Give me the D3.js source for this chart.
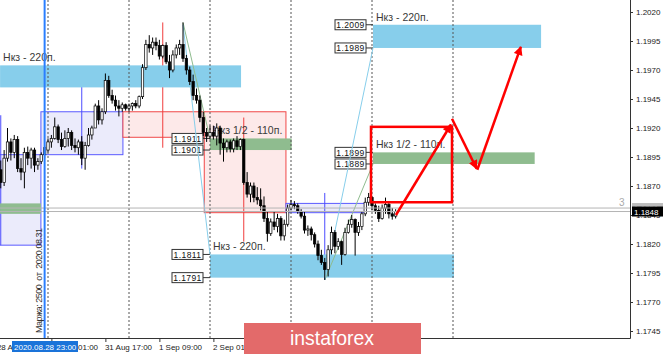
<!DOCTYPE html>
<html>
<head>
<meta charset="utf-8">
<script src="https://cdn.jsdelivr.net/npm/d3@7/dist/d3.min.js"></script>
<style>
html,body{margin:0;padding:0;background:#fff;overflow:hidden}
svg{display:block}
text{font-family:"Liberation Sans",Arial,sans-serif}
</style>
</head>
<body>
<svg id="svg" width="665" height="354"></svg>
<script>
// EURUSD H1, bar 0 = 2020.08.28 10:00
const ohlc = [
  [1.1884,1.1892,1.1868,1.1873],[1.1873,1.1901,1.1870,1.1894],[1.1894,1.1920,1.1891,1.1908],[1.1908,1.1911,1.1892,1.1899],
  [1.1899,1.1914,1.1894,1.1910],[1.1910,1.1913,1.1882,1.1885],[1.1885,1.1894,1.1875,1.1882],[1.1882,1.1903,1.1868,1.1899],
  [1.1899,1.1904,1.1888,1.1894],[1.1894,1.1903,1.1885,1.1901],[1.1901,1.1903,1.1882,1.1888],[1.1888,1.1894,1.1884,1.1891],
  [1.1891,1.1899,1.1889,1.1897],[1.1897,1.1905,1.1894,1.1903],
  // 31 Aug
  [1.1901,1.1911,1.1899,1.1908],[1.1908,1.1914,1.1903,1.1911],[1.1911,1.1929,1.1910,1.1921],[1.1921,1.1923,1.1907,1.1910],
  [1.1910,1.1916,1.1901,1.1904],[1.1904,1.1918,1.1903,1.1911],[1.1911,1.1920,1.1904,1.1916],[1.1916,1.1918,1.1901,1.1905],
  [1.1905,1.1911,1.1899,1.1903],[1.1903,1.1910,1.1897,1.1908],[1.1908,1.1913,1.1888,1.1894],[1.1894,1.1908,1.1884,1.1905],
  [1.1905,1.1920,1.1904,1.1914],[1.1914,1.1922,1.1910,1.1920],[1.1920,1.1941,1.1920,1.1939],[1.1939,1.1944,1.1923,1.1927],
  [1.1927,1.1937,1.1923,1.1934],[1.1934,1.1967,1.1932,1.1961],[1.1961,1.1965,1.1946,1.1948],[1.1948,1.1953,1.1941,1.1944],
  [1.1944,1.1948,1.1935,1.1939],[1.1939,1.1944,1.1930,1.1937],[1.1937,1.1942,1.1934,1.1940],[1.1940,1.1941,1.1935,1.1937],
  // 1 Sep
  [1.1937,1.1941,1.1934,1.1939],[1.1939,1.1942,1.1935,1.1941],[1.1941,1.1944,1.1937,1.1939],[1.1939,1.1948,1.1937,1.1947],
  [1.1947,1.1975,1.1945,1.1972],[1.1972,1.1996,1.1970,1.1992],[1.1992,1.2000,1.1985,1.1989],[1.1989,1.1998,1.1983,1.1994],
  [1.1994,1.1998,1.1987,1.1991],[1.1991,1.1996,1.1979,1.1982],[1.1982,1.1992,1.1980,1.1991],[1.1991,1.1994,1.1975,1.1977],
  [1.1977,1.1983,1.1963,1.1970],[1.1970,1.1987,1.1968,1.1983],[1.1983,1.1992,1.1980,1.1989],[1.1989,1.1996,1.1983,1.1992],
  [1.1992,1.2011,1.1977,1.1980],[1.1980,1.1983,1.1966,1.1970],[1.1970,1.1973,1.1957,1.1960],[1.1960,1.1966,1.1944,1.1948],
  [1.1948,1.1954,1.1941,1.1944],[1.1944,1.1948,1.1925,1.1929],[1.1929,1.1934,1.1913,1.1916],[1.1916,1.1920,1.1908,1.1913],
  // 2 Sep
  [1.1913,1.1922,1.1910,1.1916],[1.1916,1.1922,1.1910,1.1913],[1.1913,1.1924,1.1905,1.1920],[1.1920,1.1922,1.1897,1.1907],
  [1.1907,1.1911,1.1891,1.1903],[1.1903,1.1910,1.1899,1.1908],[1.1908,1.1910,1.1899,1.1902],[1.1902,1.1911,1.1899,1.1909],
  [1.1909,1.1913,1.1901,1.1904],[1.1904,1.1911,1.1901,1.1910],[1.1910,1.1911,1.1871,1.1873],[1.1873,1.1882,1.1860,1.1863],
  [1.1863,1.1873,1.1856,1.1870],[1.1870,1.1873,1.1856,1.1860],[1.1860,1.1869,1.1854,1.1858],[1.1858,1.1868,1.1849,1.1853],
  [1.1853,1.1861,1.1839,1.1842],[1.1842,1.1848,1.1822,1.1829],[1.1829,1.1842,1.1827,1.1839],[1.1839,1.1848,1.1832,1.1835],
  [1.1835,1.1846,1.1830,1.1842],[1.1842,1.1844,1.1823,1.1827],[1.1827,1.1841,1.1823,1.1837],[1.1837,1.1854,1.1835,1.1851],
  // 3 Sep
  [1.1851,1.1858,1.1849,1.1854],[1.1854,1.1857,1.1850,1.1853],[1.1853,1.1855,1.1846,1.1848],[1.1848,1.1850,1.1842,1.1844],
  [1.1844,1.1848,1.1829,1.1832],[1.1832,1.1836,1.1827,1.1833],[1.1833,1.1835,1.1823,1.1828],[1.1828,1.1830,1.1817,1.1820],
  [1.1820,1.1823,1.1806,1.1810],[1.1810,1.1815,1.1802,1.1804],[1.1804,1.1808,1.1789,1.1798],[1.1798,1.1819,1.1792,1.1815],
  [1.1815,1.1835,1.1811,1.1830],[1.1830,1.1832,1.1812,1.1818],[1.1818,1.1825,1.1815,1.1822],[1.1822,1.1823,1.1802,1.1811],
  [1.1811,1.1834,1.1810,1.1830],[1.1830,1.1841,1.1829,1.1837],[1.1837,1.1845,1.1834,1.1841],[1.1841,1.1842,1.1810,1.1830],
  [1.1830,1.1839,1.1827,1.1835],[1.1835,1.1848,1.1832,1.1846],[1.1846,1.1860,1.1844,1.1856],[1.1856,1.1864,1.1853,1.1860],
  // 4 Sep
  [1.1860,1.1861,1.1849,1.1853],[1.1853,1.1855,1.1846,1.1849],[1.1849,1.1853,1.1839,1.1842],[1.1842,1.1854,1.1841,1.1851],
  [1.1851,1.1860,1.1846,1.1854],[1.1854,1.1856,1.1842,1.1846],[1.1846,1.1851,1.1841,1.1844],[1.1844,1.1850,1.1842,1.1848]
];

const yTicks = [1.2020,1.1995,1.1970,1.1945,1.1920,1.1895,1.1870,1.1845,1.1820,1.1795,1.1770,1.1745];
const xTickBars = [-1, 15, 31, 47, 63];
const xTickLabels = ["28 Aug 09:00","31 Aug 01:00","31 Aug 17:00","1 Sep 09:00","2 Sep 01:00"];
const daySeparators = [14, 38, 62, 86, 110, 134];
const crossBar = 13, crossLabel = "2020.08.28 23:00";
const bid = 1.1848, ask = 1.1851;
const margin = "Маржа: 2500  от  2020.08.31";

// daily range boxes: from/to in bars, box prices, middle line range
const dayBoxes = [
  {from:-12,  to:11.9,  hi:1.1897, lo:1.1819, side:"buy",  mid:0,  top:1.1931, bot:1.1819},
  {from:11.9, to:36.2,  hi:1.1934, lo:1.1897, side:"buy",  mid:24, top:1.1966, bot:1.1885},
  {from:36.2, to:60.5,  hi:1.1934, lo:1.1912, side:"sell", mid:48, top:1.2011, bot:1.1903},
  {from:60.3, to:84.5,  hi:1.1934, lo:1.1847, side:"sell", mid:72, top:1.1929, bot:1.1822},
  {from:84.5, to:108.2, hi:1.1855, lo:1.1847, side:"buy",  mid:96, top:1.1864, bot:1.1789}
];

const blueZones = [
  {from:-0.2, to:71.2,  hi:1.1974, lo:1.1955, label:"Нкз - 220п.", tags:false},
  {from:110.3,to:160.1, hi:1.2009, lo:1.1989, label:"Нкз - 220п.", tags:true},
  {from:62,   to:134.3, hi:1.1811, lo:1.1791, label:"Нкз - 220п.", tags:true}
];
const greenZones = [
  {from:-0.2, to:11.9,  hi:1.1855, lo:1.1846, label:null, tags:false},
  {from:62,   to:86.2,  hi:1.1911, lo:1.1901, label:"Нкз 1/2 - 110п.", tags:true},
  {from:110.3,to:158.2, hi:1.1899, lo:1.1889, label:"Нкз 1/2 - 110п.", tags:true}
];

const thinLines = [
  {a:[54,1.2011], b:[62,1.1911], c:"#8fbc8f"},
  {a:[54,1.2009], b:[62,1.1811], c:"#87ceeb"},
  {a:[96,1.1789], b:[110.3,1.1889], c:"#8fbc8f"},
  {a:[96,1.1789], b:[110.3,1.1989], c:"#87ceeb"}
];
const targetBox = {from:109.7, to:133.7, hi:1.1921, lo:1.1856};
const arrows = [
  {a:[117.1,1.1845], b:[133.4,1.1923]},
  {a:[133.7,1.1928], b:[141.0,1.1885]},
  {a:[141.2,1.1884], b:[154.1,1.1990]}
];

const W = 665, H = 354, PR = 630, PB = 338;
const svg = d3.select('#svg');
const x = d3.scaleLinear().domain([14, 134]).range([48, 453]);
const y = d3.scaleLinear().domain([1.1745, 1.2020]).range([331, 12]);
const f4 = d3.format(".4f");

svg.append('defs').append('clipPath').attr('id','plot')
  .append('rect').attr('x',0).attr('y',0).attr('width',PR).attr('height',PB);
svg.select('defs').append('marker').attr('id','head')
  .attr('viewBox','0 0 10 10').attr('refX',9).attr('refY',5)
  .attr('markerWidth',4).attr('markerHeight',3.6).attr('orient','auto')
  .append('path').attr('d','M0,0 L10,5 L0,10 z').attr('fill','#ff0000');

const g = svg.append('g').attr('clip-path','url(#plot)');

// range boxes
g.selectAll('rect.day').data(dayBoxes).join('rect').attr('class','day')
  .attr('x',d=>x(d.from)).attr('width',d=>x(d.to)-x(d.from))
  .attr('y',d=>y(d.hi)).attr('height',d=>y(d.lo)-y(d.hi))
  .attr('fill',d=>d.side=="buy" ? "#ebebfb" : "#fde9e9")
  .attr('stroke',d=>d.side=="buy" ? "#5a5aff" : "#f04848").attr('stroke-width',1);
g.selectAll('line.mid').data(dayBoxes).join('line').attr('class','mid')
  .attr('x1',d=>x(d.mid)).attr('x2',d=>x(d.mid))
  .attr('y1',d=>y(d.top)).attr('y2',d=>y(d.bot))
  .attr('stroke',d=>d.side=="buy" ? "#4b4bff" : "#f03c3c").attr('stroke-width',1);

// zones
function zones(data, color){
  g.append('g').selectAll('rect').data(data).join('rect')
    .attr('x',d=>x(d.from)).attr('width',d=>x(d.to)-x(d.from))
    .attr('y',d=>y(d.hi)).attr('height',d=>y(d.lo)-y(d.hi))
    .attr('fill',color);
}
zones(blueZones, "#87ceeb");
zones(greenZones, "#8fbc8f");

// period separators
g.selectAll('line.sep').data(daySeparators).join('line').attr('class','sep')
  .attr('x1',d=>x(d)).attr('x2',d=>x(d)).attr('y1',0).attr('y2',PB)
  .attr('stroke','#555').attr('stroke-dasharray','2,2').attr('stroke-width',1);

// zone labels
g.selectAll('text.zl').data(blueZones.concat(greenZones).filter(d=>d.label)).join('text').attr('class','zl')
  .attr('x',d=>x(d.from)+3).attr('y',d=>y(d.hi)-4)
  .attr('font-size',10.5).attr('fill','#3a3a3a').text(d=>d.label);

// price tags
const tagData = [];
blueZones.concat(greenZones).filter(d=>d.tags).forEach(d=>{
  tagData.push({bar:d.from, p:d.hi}); tagData.push({bar:d.from, p:d.lo});
});
const tg = g.append('g').selectAll('g').data(tagData).join('g');
tg.append('line').attr('x1',d=>x(d.bar)-7).attr('x2',d=>x(d.bar)).attr('y1',d=>y(d.p)).attr('y2',d=>y(d.p))
  .attr('stroke','#333');
tg.append('rect').attr('x',d=>x(d.bar)-38).attr('y',d=>y(d.p)-5).attr('width',31).attr('height',10)
  .attr('fill','#fff').attr('stroke','#333').attr('stroke-width',1);
tg.append('text').attr('x',d=>x(d.bar)-22.5).attr('y',d=>y(d.p)+3.2).attr('text-anchor','middle')
  .attr('font-size',8.5).attr('letter-spacing',0.4).attr('fill','#111').text(d=>f4(d.p));

// thin lines
g.selectAll('line.thin').data(thinLines).join('line').attr('class','thin')
  .attr('x1',d=>x(d.a[0])).attr('y1',d=>y(d.a[1])).attr('x2',d=>x(d.b[0])).attr('y2',d=>y(d.b[1]))
  .attr('stroke',d=>d.c).attr('stroke-width',1);

// candles
const cg = g.append('g').selectAll('g').data(ohlc).join('g');
cg.append('line').attr('x1',(d,i)=>x(i)).attr('x2',(d,i)=>x(i))
  .attr('y1',d=>y(d[1])).attr('y2',d=>y(d[2])).attr('stroke','#000').attr('stroke-width',1);
cg.append('rect').attr('x',(d,i)=>x(i)-1.2).attr('width',2.4)
  .attr('y',d=>y(Math.max(d[0],d[3]))).attr('height',d=>Math.max(0.8,Math.abs(y(d[0])-y(d[3]))))
  .attr('fill',d=>d[3]>=d[0] ? '#fff' : '#000').attr('stroke','#000').attr('stroke-width',0.7);

// bid / ask
g.selectAll('line.ba').data([ask, bid]).join('line').attr('class','ba')
  .attr('x1',0).attr('x2',PR).attr('y1',d=>y(d)).attr('y2',d=>y(d))
  .attr('stroke','#b4b4b4').attr('stroke-width',1);
g.append('text').attr('x',619).attr('y',206).attr('font-size',10).attr('fill','#aaa').text('3');

// target box and arrows
g.append('rect').attr('x',x(targetBox.from)).attr('width',x(targetBox.to)-x(targetBox.from))
  .attr('y',y(targetBox.hi)).attr('height',y(targetBox.lo)-y(targetBox.hi))
  .attr('fill','none').attr('stroke','#ff0000').attr('stroke-width',2.5);
g.selectAll('line.arr').data(arrows).join('line').attr('class','arr')
  .attr('x1',d=>x(d.a[0])).attr('y1',d=>y(d.a[1])).attr('x2',d=>x(d.b[0])).attr('y2',d=>y(d.b[1]))
  .attr('stroke','#ff0000').attr('stroke-width',2.5).attr('marker-end','url(#head)');

// crosshair
g.append('line').attr('x1',x(crossBar)).attr('x2',x(crossBar)).attr('y1',0).attr('y2',PB)
  .attr('stroke','#2a7fff').attr('stroke-width',2);
g.append('text').attr('transform','translate('+(x(crossBar)-2.5)+',333) rotate(-90)')
  .attr('font-size',9).attr('fill','#333').attr('xml:space','preserve')
  .attr('textLength',105).attr('lengthAdjust','spacing').text(margin);

// axes
const ya = svg.append('g').attr('transform','translate('+PR+',0)')
  .call(d3.axisRight(y).tickValues(yTicks).tickSize(3).tickPadding(3).tickFormat(f4));
ya.select('.domain').remove();
ya.selectAll('line').attr('stroke','#333');
ya.selectAll('text').attr('font-size',8).attr('fill','#222').attr('font-family','"Liberation Sans",Arial,sans-serif');

const xa = svg.append('g').attr('transform','translate(0,'+PB+')')
  .call(d3.axisBottom(x).tickValues(xTickBars).tickSize(4).tickPadding(2).tickFormat((d,i)=>xTickLabels[i]));
xa.select('.domain').remove();
xa.selectAll('line').attr('stroke','#333');
xa.selectAll('text').attr('text-anchor','start').attr('dx',-1).attr('font-size',8).attr('fill','#222')
  .attr('font-family','"Liberation Sans",Arial,sans-serif');

svg.append('line').attr('x1',PR+0.5).attr('x2',PR+0.5).attr('y1',0).attr('y2',PB+0.5).attr('stroke','#333');
svg.append('line').attr('x1',0).attr('x2',PR+0.5).attr('y1',PB+0.5).attr('y2',PB+0.5).attr('stroke','#333');

// crosshair time label
svg.append('rect').attr('x',12).attr('y',341).attr('width',66).attr('height',11).attr('fill','#1a73d9');
svg.append('text').attr('x',14).attr('y',349.5).attr('font-size',8).attr('fill','#fff').text(crossLabel);

// price labels
[[ask,'#bdbdbd','#f4f4f4'],[bid,'#000','#fff']].forEach(([p,bg,fg])=>{
  svg.append('rect').attr('x',632).attr('y',y(p)-5).attr('width',31).attr('height',10).attr('fill',bg);
  svg.append('text').attr('x',634).attr('y',y(p)+3).attr('font-size',8).attr('fill',fg).text(f4(p));
});

// logo
svg.append('rect').attr('x',244).attr('y',323).attr('width',177).attr('height',31).attr('fill','#e36a6a');
svg.append('text').attr('x',332).attr('y',345).attr('text-anchor','middle')
  .attr('font-family','"Open Sans",sans-serif').attr('font-size',21).attr('fill','#fff')
  .attr('textLength',84).attr('lengthAdjust','spacingAndGlyphs').text('instaforex');
</script>
</body>
</html>
